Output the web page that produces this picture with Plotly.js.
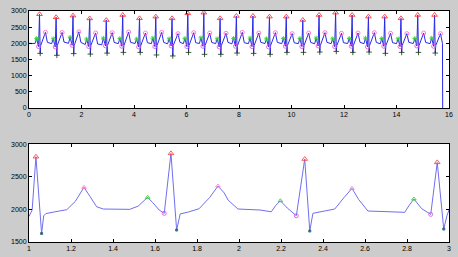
<!DOCTYPE html>
<html>
<head>
<meta charset="utf-8">
<script src="https://cdn.plot.ly/plotly-3.0.1.min.js"></script>
<style>html,body{margin:0;padding:0;background:#cccccc;}#plot{width:458px;height:257px;}</style>
</head>
<body>
<div id="plot"></div>
<script>
// ---------- Top panel: 0-16 s, fiducial points per beat ----------
const rT  = [0.40, 1.033, 1.676, 2.313, 2.944, 3.57, 4.21, 4.83, 5.45, 6.05, 6.66, 7.28, 7.90, 8.53, 9.16, 9.80, 10.43, 11.05, 11.68, 12.31, 12.93, 13.55, 14.17, 14.81, 15.45];
const rV  = [2900, 2806, 2857, 2770, 2719, 2876, 2773, 2825, 2773, 2928, 2948, 2773, 2845, 2845, 2825, 2825, 2722, 2876, 2948, 2876, 2825, 2825, 2773, 2876, 2876];
const qT  = [0.365, 0.998, 1.644, 2.273, 2.913, 3.535, 4.175, 4.795, 5.415, 6.015, 6.625, 7.245, 7.865, 8.495, 9.125, 9.765, 10.395, 11.015, 11.645, 12.275, 12.895, 13.515, 14.135, 14.775, 15.415];
const qV  = [1900, 1890, 1939, 1902, 1923, 1910, 1890, 1900, 1920, 1900, 1910, 1890, 1910, 1900, 1890, 1910, 1900, 1920, 1900, 1910, 1890, 1910, 1900, 1920, 1910];
const sT  = [0.427, 1.060, 1.703, 2.337, 2.975, 3.597, 4.237, 4.857, 5.477, 6.077, 6.687, 7.307, 7.927, 8.557, 9.187, 9.827, 10.457, 11.077, 11.707, 12.337, 12.957, 13.577, 14.197, 14.837, 15.477];
const sV  = [1690, 1630, 1683, 1668, 1698, 1720, 1720, 1640, 1610, 1720, 1660, 1660, 1700, 1690, 1660, 1720, 1720, 1730, 1750, 1720, 1730, 1690, 1720, 1720, 1700];
const jT  = [0.445, 1.078, 1.721, 2.358, 2.989, 3.615, 4.255, 4.875, 5.495, 6.095, 6.705, 7.325, 7.945, 8.575, 9.205, 9.845, 10.475, 11.095, 11.725, 12.355, 12.975, 13.595, 14.215, 14.855, 15.495];
const jV  = [1930, 1935, 1930, 1939, 1930, 1930, 1925, 1930, 1935, 1930, 1930, 1925, 1930, 1930, 1935, 1930, 1930, 1925, 1930, 1930, 1935, 1930, 1930, 1925, 1930];
const tT  = [0.625, 1.262, 1.900, 2.538, 3.169, 3.795, 4.435, 5.055, 5.675, 6.275, 6.885, 7.505, 8.125, 8.755, 9.385, 10.025, 10.655, 11.275, 11.905, 12.535, 13.155, 13.775, 14.395, 15.035, 15.675];
const tV  = [2340, 2337, 2357, 2321, 2330, 2350, 2320, 2340, 2300, 2330, 2320, 2310, 2340, 2320, 2330, 2300, 2320, 2330, 2310, 2320, 2330, 2310, 2300, 2320, 2300];
const teT = [0.70, 1.333, 1.976, 2.613, 3.244, 3.87, 4.51, 5.13, 5.75, 6.35, 6.96, 7.58, 8.20, 8.83, 9.46, 10.10, 10.73, 11.35, 11.98, 12.61, 13.23, 13.85, 14.47, 15.11, 15.75];
const teV = [2030, 2040, 2030, 1980, 2030, 2030, 2020, 2030, 2030, 2020, 2030, 2030, 2020, 2030, 2030, 2020, 2030, 2030, 2020, 2030, 2030, 2020, 2030, 2030, 2000];
const pbT = [0.23, 0.863, 1.506, 2.143, 2.774, 3.40, 4.04, 4.66, 5.28, 5.88, 6.49, 7.11, 7.73, 8.36, 8.99, 9.63, 10.26, 10.88, 11.51, 12.14, 12.76, 13.38, 14.00, 14.64, 15.28];
const pbV = [1995, 1990, 2000, 1963, 1955, 1990, 1995, 1990, 1985, 1990, 1995, 1990, 1985, 1990, 1995, 1990, 1990, 1985, 1990, 1995, 1990, 1985, 1990, 1995, 1990];
const pT  = [0.29, 0.923, 1.565, 2.197, 2.833, 3.46, 4.10, 4.72, 5.34, 5.94, 6.55, 7.17, 7.79, 8.42, 9.05, 9.69, 10.32, 10.94, 11.57, 12.20, 12.82, 13.44, 14.06, 14.70, 15.34];
const pV  = [2150, 2140, 2184, 2132, 2158, 2150, 2130, 2160, 2140, 2150, 2170, 2140, 2150, 2160, 2140, 2150, 2150, 2160, 2140, 2150, 2160, 2150, 2140, 2150, 2160];
const edgeT = [0, 15.76];
const edgeV = [2000, 0];

// ---------- Bottom panel: 1-3 s detail ----------
const bT = [1.000, 1.015, 1.033, 1.060, 1.070, 1.080, 1.120, 1.180, 1.220, 1.262, 1.290, 1.322, 1.354, 1.400, 1.480, 1.520, 1.545, 1.565, 1.590, 1.620, 1.644, 1.676, 1.703, 1.720, 1.760, 1.810, 1.860, 1.900, 1.930, 1.948, 1.995, 2.050, 2.100, 2.154, 2.175, 2.197, 2.230, 2.273, 2.313, 2.337, 2.352, 2.400, 2.456, 2.500, 2.538, 2.570, 2.614, 2.700, 2.789, 2.810, 2.833, 2.870, 2.913, 2.944, 2.975, 2.990, 3.000];
const bV = [1890, 1990, 2806, 1630, 1900, 1935, 1960, 1995, 2120, 2337, 2200, 2040, 2005, 2000, 2000, 2050, 2120, 2184, 2100, 1990, 1939, 2857, 1683, 1930, 1960, 2010, 2180, 2357, 2250, 2142, 2005, 1995, 1990, 1963, 2060, 2132, 2020, 1902, 2770, 1668, 1939, 1970, 2005, 2180, 2321, 2150, 1974, 1965, 1954, 2060, 2158, 2010, 1923, 2719, 1698, 1900, 1990];
const bRT = [1.033, 1.676, 2.313, 2.944];
const bRV = [2806, 2857, 2770, 2719];
const bST = [1.060, 1.703, 2.337, 2.975];
const bSV = [1630, 1683, 1668, 1698];
const bTT = [1.262, 1.900, 2.538];
const bTV = [2337, 2357, 2321];
const bPT = [1.565, 2.197, 2.833];
const bPV = [2184, 2132, 2158];
const bQT = [1.644, 2.273, 2.913];
const bQV = [1939, 1902, 1923];

const xTop = [0, 2, 4, 6, 8, 10, 12, 14, 16];
const yTop = [0, 500, 1000, 1500, 2000, 2500, 3000];
const xBot = [1, 1.2, 1.4, 1.6, 1.8, 2, 2.2, 2.4, 2.6, 2.8, 3];
const yBot = [1500, 2000, 2500, 3000];

// merge top fiducials into one line
const pts = [];
[[edgeT, edgeV], [pbT, pbV], [pT, pV], [qT, qV], [rT, rV], [sT, sV], [jT, jV], [tT, tV], [teT, teV]]
  .forEach(([a, b]) => a.forEach((t, i) => pts.push([t, b[i]])));
pts.sort((a, b) => a[0] - b[0]);
const lineT = pts.map(p => p[0]);
const lineV = pts.map(p => p[1]);

function mk(x, y, xa, ya, symbol, color, size, lw) {
  return {x, y, xaxis: xa, yaxis: ya, mode: 'markers', type: 'scatter', hoverinfo: 'skip',
    marker: {symbol, size, color, opacity: 0.85, line: {color, width: lw || 1}}};
}

const data = [
  {x: lineT, y: lineV, xaxis: 'x', yaxis: 'y', mode: 'lines', type: 'scatter', line: {color: '#2a2ae6', width: 1}},
  mk(pT, pV, 'x', 'y', 'asterisk-open', '#33cc33', 4),
  mk(qT, qV, 'x', 'y', 'circle-open', '#e050e0', 4),
  mk(tT, tV, 'x', 'y', 'circle-open', '#ff66cc', 4),
  mk(rT, rV, 'x', 'y', 'triangle-up-open', '#ff3030', 5),
  mk(sT, sV, 'x', 'y', 'cross-thin-open', '#204020', 4),
  {x: bT, y: bV, xaxis: 'x2', yaxis: 'y2', mode: 'lines', type: 'scatter', line: {color: '#6f6ff0', width: 1}},
  mk(bPT, bPV, 'x2', 'y2', 'triangle-up-open', '#33cc33', 4),
  mk(bQT, bQV, 'x2', 'y2', 'circle-open', '#e050e0', 4),
  mk(bTT, bTV, 'x2', 'y2', 'triangle-up-open', '#ff77bb', 4),
  mk(bRT, bRV, 'x2', 'y2', 'triangle-up-open', '#ff4040', 5),
  mk(bST, bSV, 'x2', 'y2', 'square', '#206060', 2)
];

const ax = {showline: true, linecolor: '#000', linewidth: 1, mirror: 'ticks', ticks: 'inside', ticklen: 3,
  tickcolor: '#000', showgrid: false, zeroline: false, tickfont: {size: 7, color: '#000', family: 'Liberation Sans, Arial, sans-serif'}, fixedrange: true};

const layout = {
  width: 458, height: 257, showlegend: false,
  paper_bgcolor: '#cccccc', plot_bgcolor: '#ffffff',
  margin: {l: 29, r: 9, t: 11, b: 15},
  xaxis: Object.assign({}, ax, {domain: [0, 1], range: [0, 16], tickvals: xTop, anchor: 'y'}),
  yaxis: Object.assign({}, ax, {domain: [0.580, 1], range: [0, 3000], tickvals: yTop, anchor: 'x'}),
  xaxis2: Object.assign({}, ax, {domain: [0, 1], range: [1, 3], tickvals: xBot, anchor: 'y2'}),
  yaxis2: Object.assign({}, ax, {domain: [0, 0.424], range: [1500, 3000], tickvals: yBot, anchor: 'x2'})
};

Plotly.newPlot('plot', data, layout, {displayModeBar: false, staticPlot: true});
</script>
</body>
</html>
